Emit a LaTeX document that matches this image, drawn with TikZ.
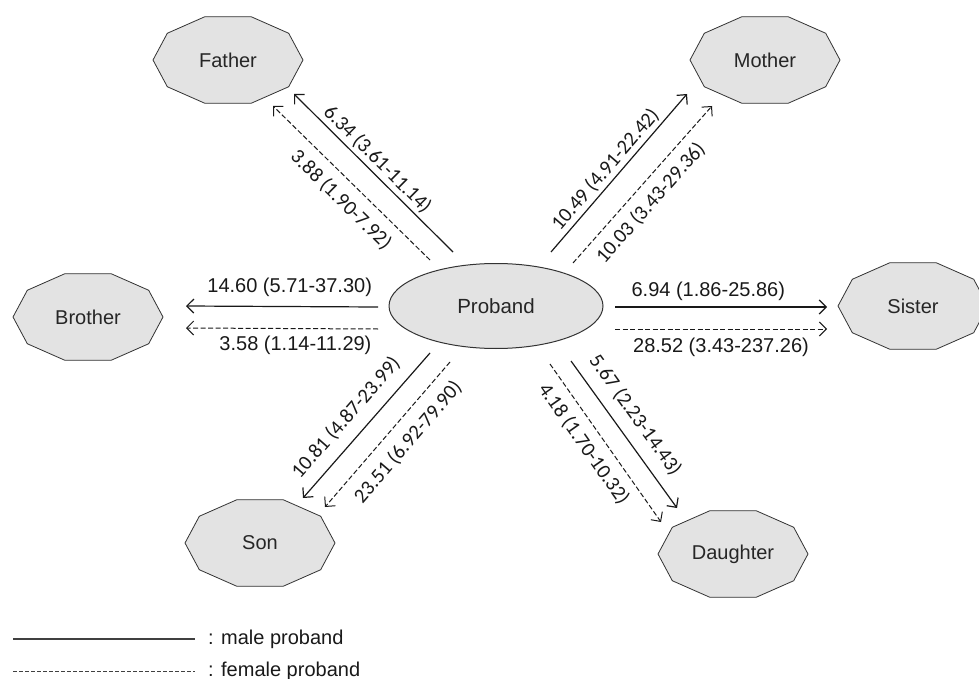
\documentclass[tikz,border=0pt]{standalone}
\usepackage{fontspec}
\usepackage{tikz}
\usetikzlibrary{arrows.meta}
\usetikzlibrary{shapes.geometric}
\setmainfont{Liberation Sans}
\newfontfamily\ratefont{Carlito}
\tikzset{decagon/.style = {draw = black!80, line width = 0.8pt, fill = black!11}}
\tikzset{relative/.style = {font = \fontsize{20}{24}\selectfont, text = black!85}}
\tikzset{male/.style = {black!90, line width = 1.2pt, -{Straight Barb[length = 7pt, width = 14pt]}}}
\tikzset{female/.style = {male, line width = 1pt, dash pattern = on 5pt off 2.5pt}}
\tikzset{rate/.style = {font = \ratefont\fontsize{20.5}{24}\selectfont, text = black!90, inner sep = 0pt}}
\tikzset{hrate/.style = {font = \fontsize{20}{24}\selectfont, text = black!90, inner sep = 0pt}}

\begin{document}
\begin{tikzpicture}[x = 1pt, y = 1pt]
    \clip (0, 0) rectangle (979, -679);

    \node [ellipse, draw = black!80, line width = 1pt, fill = black!11, minimum width = 214, minimum height = 85,
           inner sep = 0, font = \fontsize{20.5}{24}\selectfont, text = black!85] (proband) at (496, -306) {Proband};

    \foreach \n/\txt/\x/\y in {father/Father/228/60, mother/Mother/765/60, brother/Brother/88/317,
                               sister/Sister/913/306, son/Son/260/543, daughter/Daughter/733/554} {
        \draw [decagon] (\x, -\y) +(0:75 and 45.5) \foreach \a in {36, 72, ..., 324} { -- +(\a:75 and 45.5) } -- cycle;
        \node [relative] (\n) at (\x, -\y) {\txt};
    }

    \draw [male] ([shift = {(-43, 54)}]proband.center) -- ([shift = {(66, -34)}]father.center)
        node [rate, pos = .53, sloped, above = 3pt] {6.34 (3.61-11.14)};
    \draw [female] ([shift = {(-66, 46)}]proband.center) -- ([shift = {(45, -46)}]father.center)
        node [rate, pos = .48, sloped, below = 10pt] {3.88 (1.90-7.92)};

    \draw [male] ([shift = {(55, 54)}]proband.center) -- ([shift = {(-78, -34)}]mother.center)
        node [rate, pos = .47, sloped, above = 3pt] {10.49 (4.91-22.42)};
    \draw [female] ([shift = {(77, 43)}]proband.center) -- ([shift = {(-53, -46)}]mother.center)
        node [rate, pos = .46, sloped, below = 9pt] {10.03 (3.43-29.36)};

    \draw [male] ([shift = {(-118, -1)}]proband.center) -- ([shift = {(98, 11)}]brother.center)
        node [hrate, pos = .46, above = 9pt] {14.60 (5.71-37.30)};
    \draw [female] ([shift = {(-118, -23)}]proband.center) -- ([shift = {(98, -11)}]brother.center)
        node [hrate, pos = .43, below = 7pt] {3.58 (1.14-11.29)};

    \draw [male] ([shift = {(119, -1)}]proband.center) -- ([shift = {(-86, -1)}]sister.center)
        node [hrate, pos = .44, above = 6pt] {6.94 (1.86-25.86)};
    \draw [female] ([shift = {(119, -23)}]proband.center) -- ([shift = {(-86, -23)}]sister.center)
        node [hrate, pos = .5, below = 9pt] {28.52 (3.43-237.26)};

    \draw [male] ([shift = {(-66, -47)}]proband.center) -- ([shift = {(43, 45)}]son.center)
        node [rate, pos = .54, sloped, above = 11pt] {10.81 (4.87-23.99)};
    \draw [female] ([shift = {(-46, -56)}]proband.center) -- ([shift = {(65, 36)}]son.center)
        node [rate, pos = .46, sloped, below = 11pt] {23.51 (6.92-79.90)};

    \draw [male] ([shift = {(75, -55)}]proband.center) -- ([shift = {(-56, 46)}]daughter.center)
        node [rate, pos = .45, sloped, above = 11pt] {5.67 (2.23-14.43)};
    \draw [female] ([shift = {(54, -58)}]proband.center) -- ([shift = {(-72, 32)}]daughter.center)
        node [rate, pos = .44, sloped, below = 9pt] {4.18 (1.70-10.32)};

    \node [hrate, anchor = west] (male) at (208, -639) {: male proband};
    \node [hrate, anchor = west] (female) at (208, -671) {: female proband};
    \draw [black!75, line width = 1.2pt] ([xshift = -195]male.west) -- ([xshift = -13]male.west);
    \draw [black!75, line width = 0.9pt, dash pattern = on 4pt off 2pt] ([xshift = -195]female.west) -- ([xshift = -13]female.west);
\end{tikzpicture}
\end{document}
